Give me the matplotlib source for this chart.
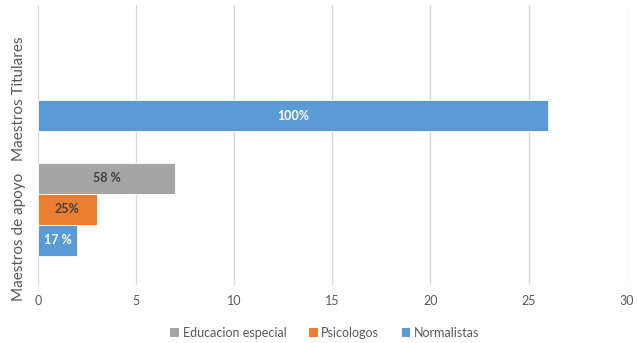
import matplotlib
matplotlib.use("Agg")
import matplotlib.pyplot as plt
import matplotlib.transforms as mtransforms
from matplotlib.patches import Patch
import numpy as np

categories = ["Maestros de apoyo", "Maestros Titulares"]
series_names = ["Educacion especial", "Psicologos", "Normalistas"]
educacion_especial = [7, 0]
psicologos = [3, 0]
normalistas = [2, 26]
label_educacion = ["58 %", ""]
label_psicologos = ["25%", ""]
label_normalistas = ["17 %", "100%"]
x_ticks = [0, 5, 10, 15, 20, 25, 30]

colors = ["#A5A5A5", "#ED7D31", "#5B9BD5"]
label_colors = ["#404040", "#404040", "#FFFFFF"]
text_gray = "#595959"

plt.rcParams['font.family'] = ['Lato', 'DejaVu Sans']

fig = plt.figure(figsize=(6.37, 3.43), dpi=100)
ax = fig.add_axes([0.0597, 0.169, 0.924, 0.816])

h = 0.249
offsets = [h, 0.0, -h]
values = [educacion_especial, psicologos, normalistas]
labels = [label_educacion, label_psicologos, label_normalistas]
y = np.arange(len(categories))

for vals, off, col, labs, lc in zip(values, offsets, colors, labels, label_colors):
    bars = ax.barh(y + off, vals, height=h, color=col, edgecolor="white",
                   linewidth=0.6, zorder=3)
    for b, lab, v in zip(bars, labs, vals):
        if v <= 0:
            b.set_visible(False)
            continue
        if lab:
            ax.text(b.get_x() + b.get_width() / 2, b.get_y() + b.get_height() / 2,
                    lab, ha="center", va="center", color=lc, fontsize=9,
                    fontweight="bold", zorder=4)

ax.set_xlim(0, 30)
ax.set_ylim(-0.61, 1.64)
ax.set_xticks(x_ticks)
ax.set_xticklabels([str(t) for t in x_ticks], fontsize=9, color=text_gray)
ax.set_yticks(y)
ax.set_yticklabels(categories, rotation=90, va="center", fontsize=11, color=text_gray)
ax.tick_params(axis="both", length=0)
ax.tick_params(axis="x", pad=7)
ax.tick_params(axis="y", pad=9)

label_shift_pt = [-20, -10]
for lbl, dy in zip(ax.get_yticklabels(), label_shift_pt):
    lbl.set_transform(lbl.get_transform() +
                      mtransforms.ScaledTranslation(0, dy / 72, fig.dpi_scale_trans))

ax.grid(axis="x", color="#D9D9D9", linewidth=1, zorder=0)
ax.grid(axis="y", visible=False)
for s in ax.spines.values():
    s.set_visible(False)

handles = [Patch(facecolor=c, edgecolor="none") for c in colors]
fig.legend(handles, series_names, loc="center", bbox_to_anchor=(0.51, 0.03),
           ncol=3, frameon=False, fontsize=9, handlelength=0.7, handleheight=0.7,
           handletextpad=0.3, columnspacing=1.8, labelcolor=text_gray)

fig.savefig("out.png", dpi=100, facecolor="white")
